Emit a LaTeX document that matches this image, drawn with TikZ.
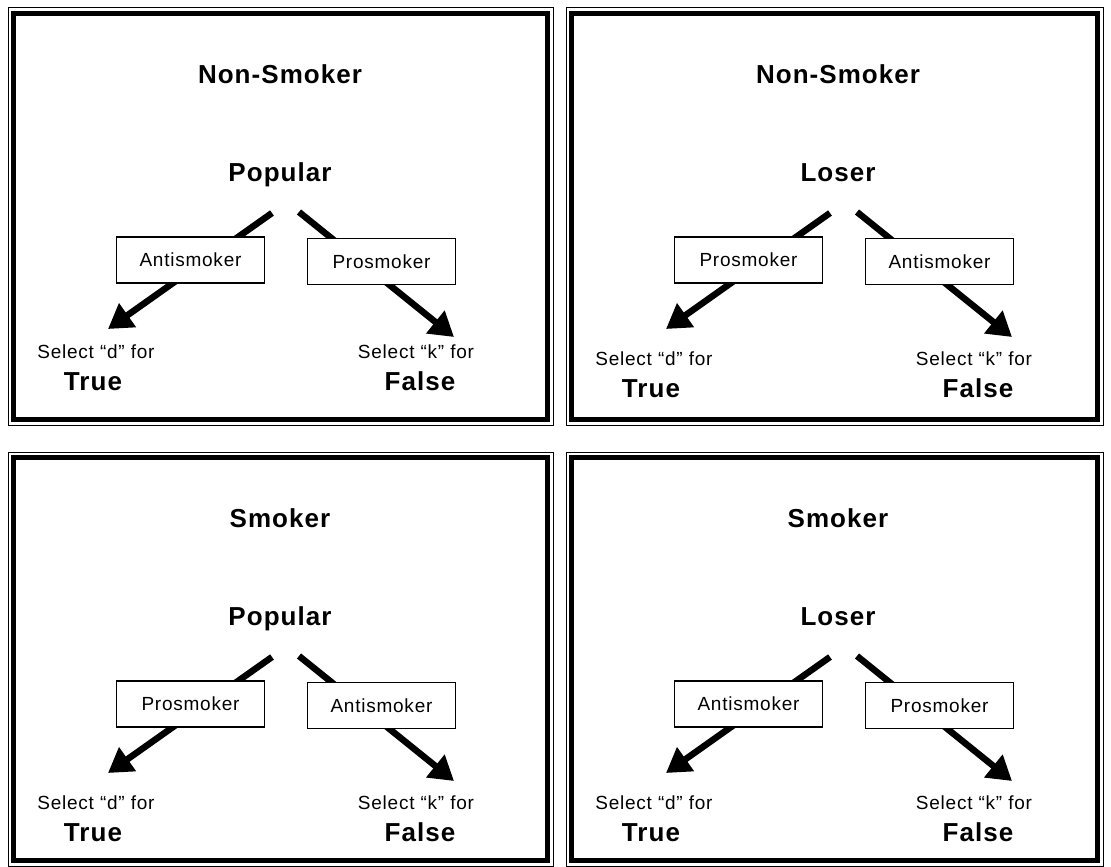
\documentclass[tikz,border=0pt]{standalone}
\usepackage{fontspec}
\setmainfont{Liberation Sans}
\newfontfamily\panelfont[LetterSpace=4]{Liberation Sans}
\usetikzlibrary{arrows.meta}

% one framed panel: name, corner, width, height, top word, middle word,
% left box, right box, drop of the answer lines
\newcommand{\smokepanel}[9]{%
  \begin{scope}[shift={(#2)}]
    % Double frame
    \draw[line width=1pt] (0,0) rectangle (#3,#4);
    \draw[line width=5.5pt] (5.5,5.5) rectangle ({#3-5.5},{#4-5.5});

    % Headings
    \node[headtxt] (#1title) at (272,75) {#5};
    \node[headtxt] (#1mid) at (272,173) {#6};

    % Arrows
    \coordinate (#1ls) at (264,205);
    \coordinate (#1lt) at (100,321);
    \coordinate (#1rs) at (291,204);
    \coordinate (#1rt) at (446,329);
    \draw[pickarrow] (#1ls) -- (#1lt);
    \draw[pickarrow] (#1rs) -- (#1rt);

    % Boxes on the arrows
    \node[sidebox] (#1lbox) at (182.5,252) {#7};
    \node[sidebox] (#1rbox) at (373.5,253.5) {#8};

    % Answers
    \node[selecttxt] (#1lsel) at (88,{350+#9}) {Select “d” for};
    \node[headtxt] (#1true) at (85,{382+#9}) {True};
    \node[selecttxt] (#1rsel) at (408,{350+#9}) {Select “k” for};
    \node[headtxt] (#1false) at (412,{382+#9}) {False};
  \end{scope}}

\begin{document}
\begin{tikzpicture}[x=1pt,y=-1pt,
    headtxt/.style={anchor=base, inner sep=0pt,
      font=\panelfont\bfseries\fontsize{26}{30}\selectfont},
    selecttxt/.style={anchor=base, inner sep=0pt,
      font=\panelfont\fontsize{19}{23}\selectfont},
    sidebox/.style={draw, line width=1.4pt, fill=white, inner sep=0pt,
      minimum width=148pt, minimum height=46pt,
      font=\panelfont\fontsize{19}{23}\selectfont},
    pickarrow/.style={line width=6.5pt, -{Triangle[length=24pt,width=28pt]}}]
  % Page
  \fill[white] (0,0) rectangle (1111,867);
  \useasboundingbox (0,0) rectangle (1111,867);

  % Top row
  \smokepanel{a}{8,8}{545}{417}{Non-Smoker}{Popular}{Antismoker}{Prosmoker}{0}
  \smokepanel{b}{566,8}{537}{417}{Non-Smoker}{Loser}{Prosmoker}{Antismoker}{7}

  % Bottom row
  \smokepanel{c}{8,452}{545}{414}{Smoker}{Popular}{Prosmoker}{Antismoker}{7}
  \smokepanel{d}{566,452}{537}{414}{Smoker}{Loser}{Antismoker}{Prosmoker}{7}
\end{tikzpicture}
\end{document}
